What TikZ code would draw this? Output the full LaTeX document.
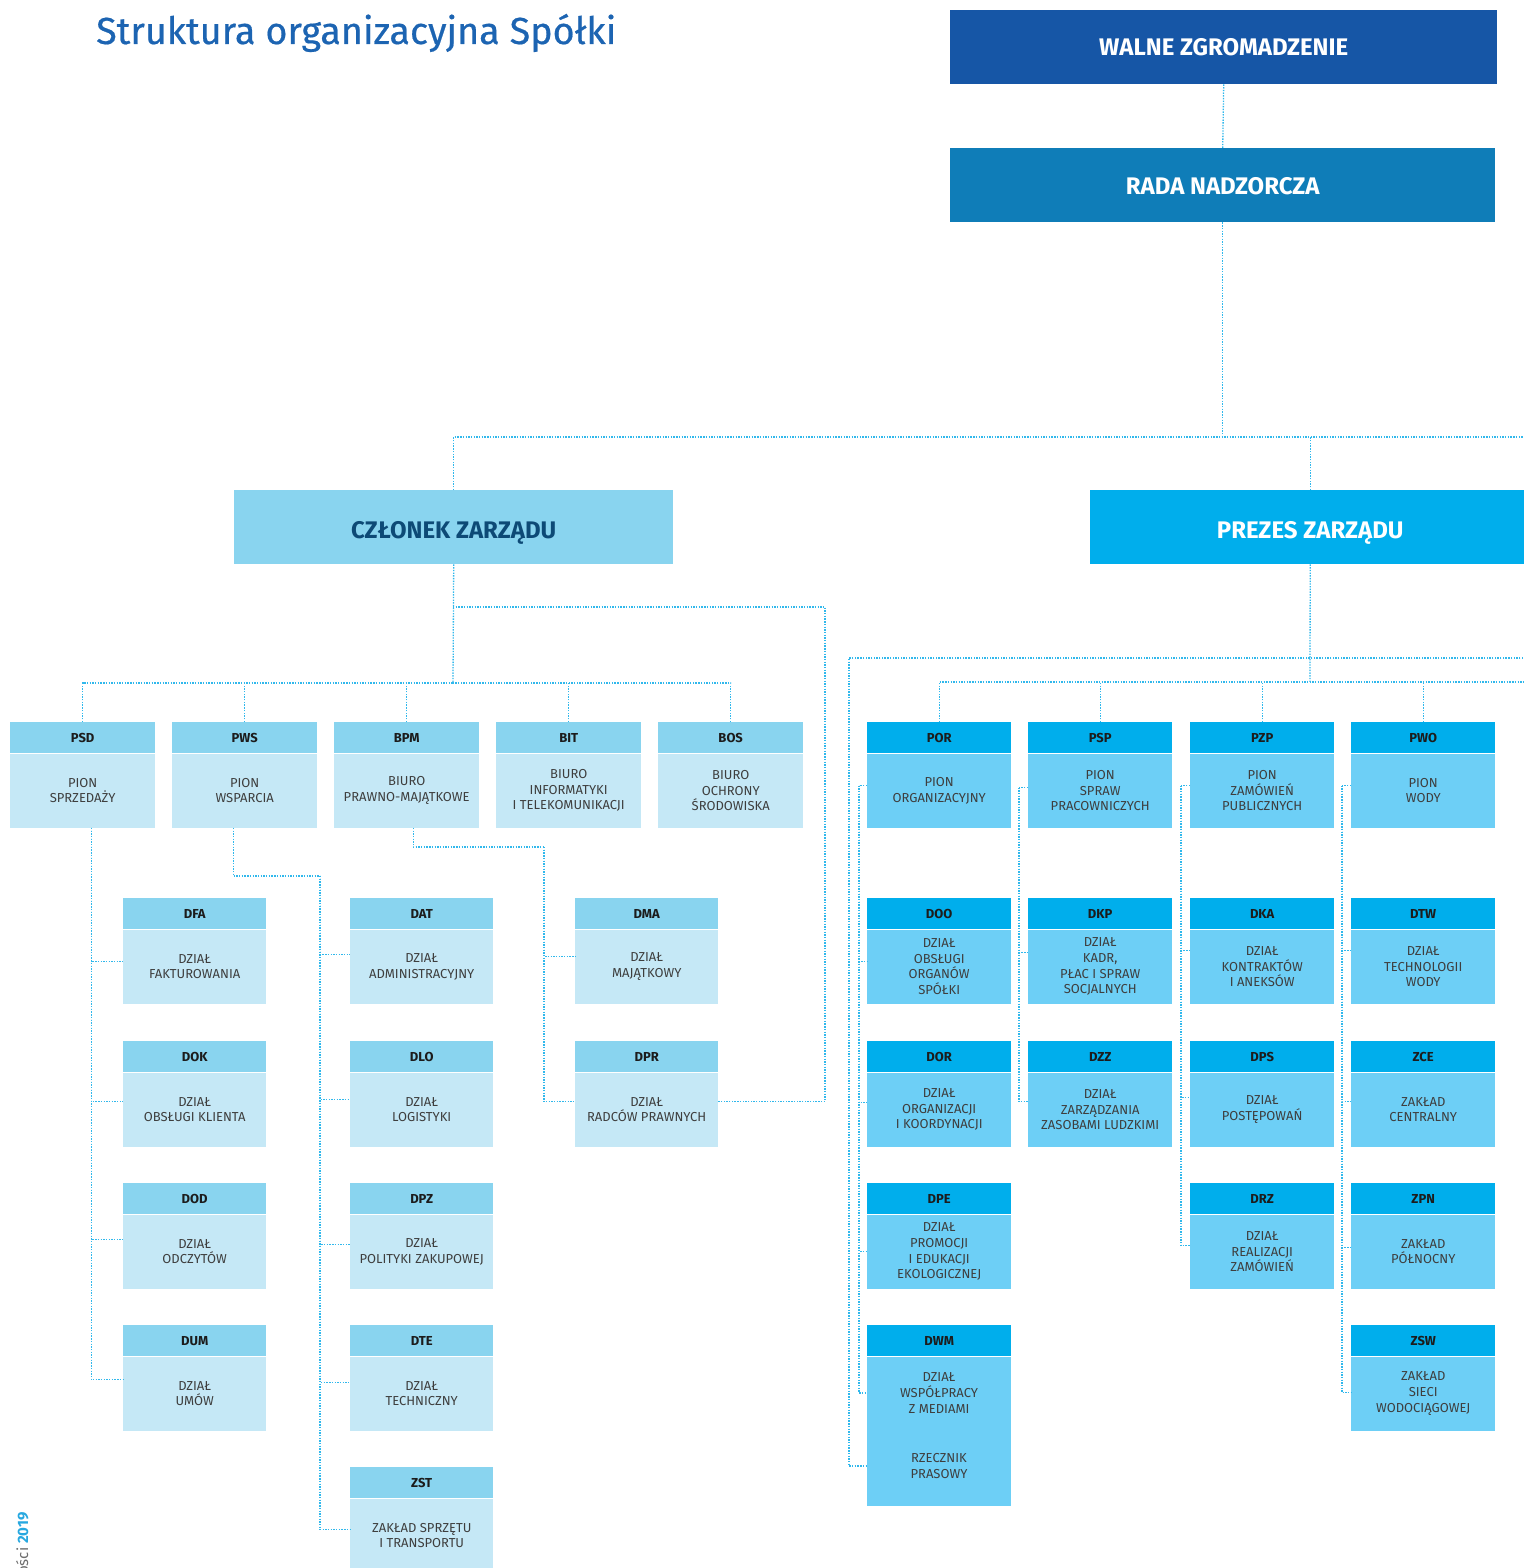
\documentclass[tikz,border=0pt]{standalone}
\usepackage{fontspec}
\setmainfont{Fira Sans}
\newfontfamily\titlefont[FakeBold=0.5]{Fira Sans}
\definecolor{titleblue}{RGB}{28,100,178}
\definecolor{walnec}{RGB}{22,86,166}
\definecolor{radac}{RGB}{15,125,184}
\definecolor{czlc}{RGB}{137,212,239}
\definecolor{czltxt}{RGB}{13,74,118}
\definecolor{prezc}{RGB}{0,174,236}
\definecolor{hdrLc}{RGB}{137,212,239}
\definecolor{bdyLc}{RGB}{197,232,246}
\definecolor{hdrRc}{RGB}{0,174,236}
\definecolor{bdyRc}{RGB}{109,207,246}
\definecolor{connc}{RGB}{48,184,236}
\definecolor{txtgray}{RGB}{62,62,62}
\definecolor{codec}{RGB}{28,28,28}
\definecolor{footgray}{RGB}{110,110,110}
\definecolor{footblue}{RGB}{39,168,224}
\tikzset{
  conn/.style={draw=connc, line width=1.3pt, dash pattern=on 1.4pt off 1.3pt},
  topbox/.style={inner sep=0pt, anchor=north west, minimum height=74pt, text=white,
    font=\bfseries\fontsize{24}{28}\selectfont, text height=17pt, text depth=0pt},
  hdrL/.style={fill=hdrLc, inner sep=0pt, minimum height=31pt, text=codec,
    font=\bfseries\fontsize{13}{15}\selectfont, text height=9.3pt, text depth=0pt},
  hdrR/.style={fill=hdrRc, inner sep=0pt, minimum height=31pt, text=codec,
    font=\bfseries\fontsize{13}{15}\selectfont, text height=9.3pt, text depth=0pt},
  bdyL/.style={fill=bdyLc, inner sep=0pt, align=center, text=txtgray,
    font=\fontsize{13}{15.7}\selectfont},
  bdyR/.style={fill=bdyRc, inner sep=0pt, align=center, text=txtgray,
    font=\fontsize{13}{15.7}\selectfont},
}
% name, x, y, width, body height, code, text, palette
\newcommand\orgbox[8]{%
  \node[hdr#8, minimum width=#4pt, anchor=north west] (#1h) at (#2,#3) {#6};
  \node[bdy#8, minimum width=#4pt, minimum height=#5pt, anchor=north] (#1) at (#1h.south) {#7};
}
\begin{document}
\begin{tikzpicture}[x=1pt,y=-1pt]
\useasboundingbox[fill=white] (0,0) rectangle (1523,1568);

% title
\node[anchor=base west, inner sep=0pt, text=titleblue, font=\titlefont\fontsize{37.7}{42}\selectfont] (title) at (96,44) {Struktura organizacyjna Spółki};

% footer
\node[rotate=90, anchor=base east, inner sep=0pt, font=\fontsize{15}{18}\selectfont] (foot) at (28,1512)
  {{\color{footgray}ości }{\bfseries\color{footblue}2019}};

% top level
\node[topbox, fill=walnec, minimum width=547pt] (walne) at (950,10) {WALNE ZGROMADZENIE};
\node[topbox, fill=radac, minimum width=545pt, text height=19pt] (rada) at (950,148) {RADA NADZORCZA};
\node[topbox, fill=czlc, text=czltxt, minimum width=439pt, text height=22pt] (czlonek) at (234,490) {CZŁONEK ZARZĄDU};
\node[topbox, fill=prezc, minimum width=440pt, text height=22pt] (prezes) at (1090,490) {PREZES ZARZĄDU};

% left level 2
\orgbox{psd}{10}{722}{145}{74}{PSD}{PION\\SPRZEDAŻY}{L}
\orgbox{pws}{172}{722}{145}{74}{PWS}{PION\\WSPARCIA}{L}
\orgbox{bpm}{334}{722}{145}{74}{BPM}{BIURO\\PRAWNO-MAJĄTKOWE}{L}
\orgbox{bit}{496}{722}{145}{74}{BIT}{BIURO\\INFORMATYKI\\I TELEKOMUNIKACJI}{L}
\orgbox{bos}{658}{722}{145}{74}{BOS}{BIURO\\OCHRONY\\ŚRODOWISKA}{L}

% left sub boxes
\orgbox{dfa}{123}{898}{143}{74}{DFA}{DZIAŁ\\FAKTUROWANIA}{L}
\orgbox{dok}{123}{1041}{143}{74}{DOK}{DZIAŁ\\OBSŁUGI KLIENTA}{L}
\orgbox{dod}{123}{1183}{143}{74}{DOD}{DZIAŁ\\ODCZYTÓW}{L}
\orgbox{dum}{123}{1325}{143}{74}{DUM}{DZIAŁ\\UMÓW}{L}

\orgbox{dat}{350}{898}{143}{74}{DAT}{DZIAŁ\\ADMINISTRACYJNY}{L}
\orgbox{dlo}{350}{1041}{143}{74}{DLO}{DZIAŁ\\LOGISTYKI}{L}
\orgbox{dpz}{350}{1183}{143}{74}{DPZ}{DZIAŁ\\POLITYKI ZAKUPOWEJ}{L}
\orgbox{dte}{350}{1325}{143}{74}{DTE}{DZIAŁ\\TECHNICZNY}{L}
\orgbox{zst}{350}{1467}{143}{74}{ZST}{ZAKŁAD SPRZĘTU\\I TRANSPORTU}{L}

\orgbox{dma}{575}{898}{143}{74}{DMA}{DZIAŁ\\MAJĄTKOWY}{L}
\orgbox{dpr}{575}{1041}{143}{74}{DPR}{DZIAŁ\\RADCÓW PRAWNYCH}{L}

% right level 2
\orgbox{por}{867}{722}{144}{74}{POR}{PION\\ORGANIZACYJNY}{R}
\orgbox{psp}{1028}{722}{144}{74}{PSP}{PION\\SPRAW\\PRACOWNICZYCH}{R}
\orgbox{pzp}{1190}{722}{144}{74}{PZP}{PION\\ZAMÓWIEŃ\\PUBLICZNYCH}{R}
\orgbox{pwo}{1351}{722}{144}{74}{PWO}{PION\\WODY}{R}

% right sub boxes
\orgbox{doo}{867}{898}{144}{74}{DOO}{DZIAŁ\\OBSŁUGI\\ORGANÓW\\SPÓŁKI}{R}
\orgbox{dor}{867}{1041}{144}{74}{DOR}{DZIAŁ\\ORGANIZACJI\\I KOORDYNACJI}{R}
\orgbox{dpe}{867}{1183}{144}{74}{DPE}{DZIAŁ\\PROMOCJI\\I EDUKACJI\\EKOLOGICZNEJ}{R}
\orgbox{dwm}{867}{1325}{144}{149}{DWM}{}{R}
\node[bdyR] (dwm1) at (939,1393) {DZIAŁ\\WSPÓŁPRACY\\Z MEDIAMI};
\node[bdyR] (dwm2) at (939,1466) {RZECZNIK\\PRASOWY};

\orgbox{dkp}{1028}{898}{144}{74}{DKP}{DZIAŁ\\KADR,\\PŁAC I SPRAW\\SOCJALNYCH}{R}
\orgbox{dzz}{1028}{1041}{144}{74}{DZZ}{DZIAŁ\\ZARZĄDZANIA\\ZASOBAMI LUDZKIMI}{R}

\orgbox{dka}{1190}{898}{144}{74}{DKA}{DZIAŁ\\KONTRAKTÓW\\I ANEKSÓW}{R}
\orgbox{dps}{1190}{1041}{144}{74}{DPS}{DZIAŁ\\POSTĘPOWAŃ}{R}
\orgbox{drz}{1190}{1183}{144}{74}{DRZ}{DZIAŁ\\REALIZACJI\\ZAMÓWIEŃ}{R}

\orgbox{dtw}{1351}{898}{144}{74}{DTW}{DZIAŁ\\TECHNOLOGII\\WODY}{R}
\orgbox{zce}{1351}{1041}{144}{74}{ZCE}{ZAKŁAD\\CENTRALNY}{R}
\orgbox{zpn}{1351}{1183}{144}{74}{ZPN}{ZAKŁAD\\PÓŁNOCNY}{R}
\orgbox{zsw}{1351}{1325}{144}{74}{ZSW}{ZAKŁAD\\SIECI\\WODOCIĄGOWEJ}{R}

% ---------- connectors ----------
\coordinate (hbR) at (1523,437);
\draw[conn] (walne.south) -- (rada.north);
\draw[conn] (rada.south) -- (rada.south |- hbR);
\draw[conn] (czlonek.north) |- (hbR);
\draw[conn] (prezes.north) -- (prezes.north |- hbR);

% left bus
\coordinate (busL) at (453,683);
\coordinate (busL2) at (453,607);
\coordinate (cR) at (825,607);
\draw[conn] (czlonek.south) -- (busL);
\draw[conn] (psdh.north) |- (busL);
\draw[conn] (bosh.north) |- (busL);
\draw[conn] (pwsh.north) -- (pwsh.north |- busL);
\draw[conn] (bpmh.north) -- (bpmh.north |- busL);
\draw[conn] (bith.north) -- (bith.north |- busL);
\draw[conn] (busL2) -- (cR) |- ([yshift=8pt]dpr.east);

% PSD branch
\coordinate (psdB) at ([xshift=8.5pt]psd.south);
\draw[conn] (psdB) |- ([yshift=5pt]dfa.west);
\draw[conn] (psdB) |- ([yshift=8pt]dok.west);
\draw[conn] (psdB) |- ([yshift=12pt]dod.west);
\draw[conn] (psdB) |- ([yshift=14pt]dum.west);

% PWS branch
\coordinate (pwsB) at ([xshift=-11.5pt]pws.south);
\coordinate (pwsK) at (320,876);
\draw[conn] (pwsB) |- (pwsK);
\draw[conn] (pwsK) |- ([yshift=12pt]dat.west);
\draw[conn] (pwsK) |- ([yshift=10pt]dlo.west);
\draw[conn] (pwsK) |- ([yshift=7pt]dpz.west);
\draw[conn] (pwsK) |- ([yshift=11pt]dte.west);
\draw[conn] (pwsK) |- ([yshift=6pt]zst.west);

% BPM branch
\coordinate (bpmB) at ([xshift=6.5pt]bpm.south);
\coordinate (bpmK) at (544,847);
\draw[conn] (bpmB) |- (bpmK);
\draw[conn] (bpmK) |- ([yshift=10pt]dma.west);
\draw[conn] (bpmK) |- ([yshift=8pt]dpr.west);

% right bus
\coordinate (busR) at (1310,682);
\coordinate (busRend) at (1523,682);
\coordinate (busR2) at (849,658);
\coordinate (busR2end) at (1523,658);
\draw[conn] (prezes.south) -- (busR);
\draw[conn] (porh.north) |- (busRend);
\draw[conn] (psph.north) -- (psph.north |- busR);
\draw[conn] (pzph.north) -- (pzph.north |- busR);
\draw[conn] (pwoh.north) -- (pwoh.north |- busR);
\draw[conn] (busR2end) -- (busR2) |- (dwm.west |- dwm2);

% POR branch
\coordinate (porK) at ([xshift=-8pt,yshift=5pt]por.west);
\draw[conn] ([yshift=5pt]por.west) -- (porK);
\draw[conn] (porK) |- ([yshift=5pt]doo.west);
\draw[conn] (porK) |- ([yshift=7pt]dor.west);
\draw[conn] (porK) |- (dpe.west);
\draw[conn] (porK) |- (dwm.west |- dwm1);

% PSP branch
\coordinate (pspK) at ([xshift=-9pt,yshift=3pt]psp.west);
\draw[conn] ([yshift=3pt]psp.west) -- (pspK);
\draw[conn] (pspK) |- ([yshift=14pt]dkp.west);
\draw[conn] (pspK) |- ([yshift=8pt]dzz.west);

% PZP branch
\coordinate (pzpK) at ([xshift=-9pt,yshift=5pt]pzp.west);
\draw[conn] ([yshift=5pt]pzp.west) -- (pzpK);
\draw[conn] (pzpK) |- ([yshift=16pt]dka.west);
\draw[conn] (pzpK) |- ([yshift=12pt]dps.west);
\draw[conn] (pzpK) |- ([yshift=6pt]drz.west);

% PWO branch
\coordinate (pwoK) at ([xshift=-9pt,yshift=5pt]pwo.west);
\draw[conn] ([yshift=5pt]pwo.west) -- (pwoK);
\draw[conn] (pwoK) |- ([yshift=16pt]dtw.west);
\draw[conn] (pwoK) |- ([yshift=8pt]zce.west);
\draw[conn] (pwoK) |- ([yshift=4pt]zpn.west);
\draw[conn] (pwoK) |- ([yshift=1pt]zsw.west);
\end{tikzpicture}
\end{document}
